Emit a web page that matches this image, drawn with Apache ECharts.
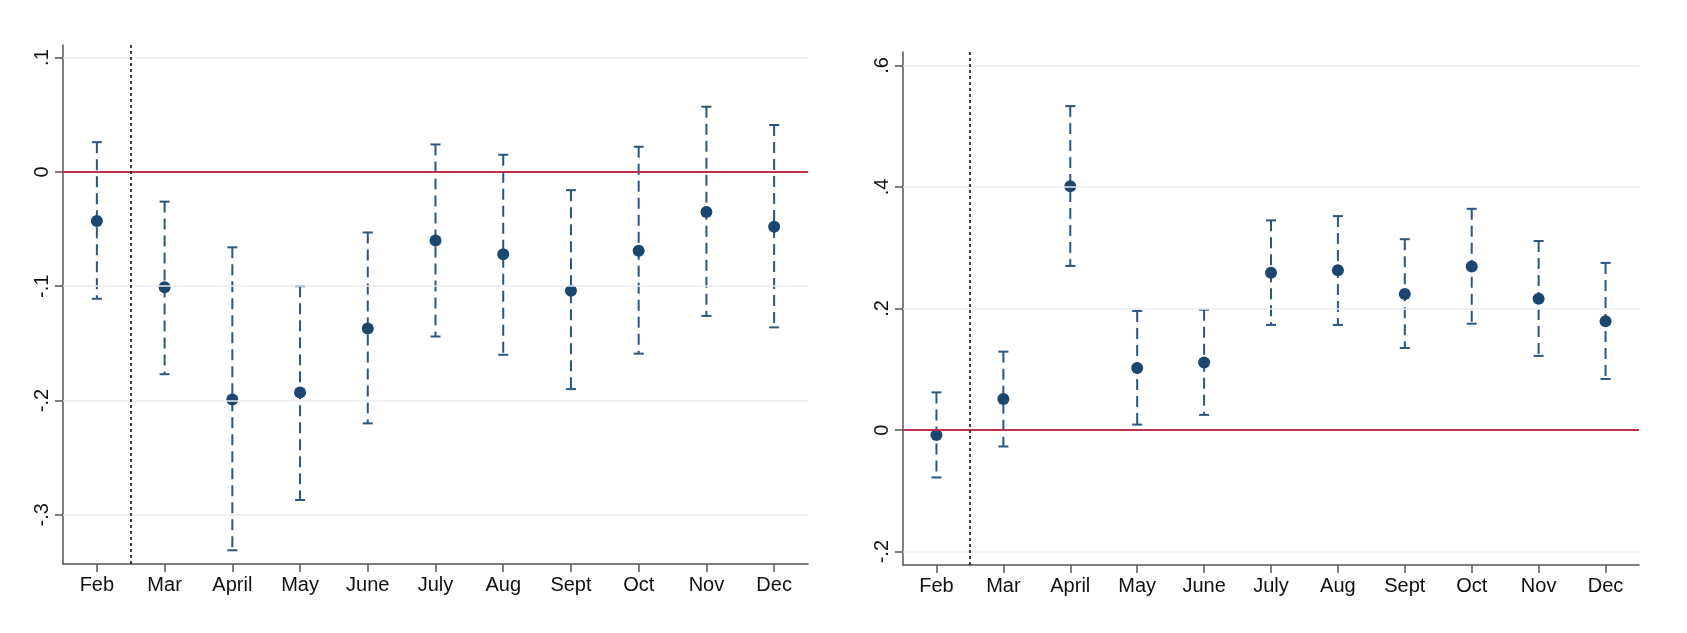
<!DOCTYPE html>
<html>
<head>
<meta charset="utf-8">
<script src="https://cdn.jsdelivr.net/npm/echarts@6/dist/echarts.min.js"></script>
<style>
html,body{margin:0;padding:0;background:#fff;}
#c{width:1687px;height:633px;}
</style>
</head>
<body>
<div id="c"></div>
<script>
// ---- data ----
const months = ['Feb','Mar','April','May','June','July','Aug','Sept','Oct','Nov','Dec'];

const leftEst  = [-0.043, -0.101, -0.199, -0.193, -0.137, -0.060, -0.072, -0.104, -0.069, -0.035, -0.048];
const leftLow  = [-0.111, -0.177, -0.331, -0.287, -0.220, -0.144, -0.160, -0.190, -0.159, -0.126, -0.136];
const leftHigh = [ 0.026, -0.026, -0.066, -0.100, -0.053,  0.024,  0.015, -0.016,  0.022,  0.057,  0.041];

const rightEst  = [-0.008, 0.051, 0.401, 0.102, 0.111, 0.259, 0.263, 0.224, 0.269, 0.216, 0.179];
const rightLow  = [-0.078, -0.027, 0.270, 0.009, 0.025, 0.173, 0.173, 0.135, 0.175, 0.122, 0.084];
const rightHigh = [ 0.062, 0.129, 0.533, 0.196, 0.198, 0.345, 0.352, 0.314, 0.364, 0.311, 0.275];

const leftTicks = [-0.3, -0.2, -0.1, 0, 0.1];
const leftTickLabels = ['-.3', '-.2', '-.1', '0', '.1'];
const rightTicks = [-0.2, 0, 0.2, 0.4, 0.6];
const rightTickLabels = ['-.2', '0', '.2', '.4', '.6'];

const leftRange = [-0.343, 0.111];
const rightRange = [-0.222, 0.622];
const eventPos = 1; // boundary between Feb and Mar (band edge)

// ---- styles ----
const NAVY = '#1a476f';
const BAR = '#2b5680';
const RED = '#c0304a';
const GRID = '#ebebf0';
const AXIS = '#555555';
const FONT = 'Liberation Sans, Arial, sans-serif';

const chart = echarts.init(document.getElementById('c'), null, {renderer: 'canvas'});

function labelFmt(ticks, labels) {
  return function (v) {
    for (let i = 0; i < ticks.length; i++) {
      if (Math.abs(v - ticks[i]) < 1e-9) return labels[i];
    }
    return '';
  };
}

function errRender(params, api) {
  const i = api.value(0);
  const top = api.coord([i, api.value(2)]);
  const bot = api.coord([i, api.value(1)]);
  const hw = 5;
  const st = {stroke: BAR, lineWidth: 2};
  return {
    type: 'group',
    children: [
      {type: 'line', shape: {x1: top[0], y1: top[1], x2: bot[0], y2: bot[1]},
       style: Object.assign({lineDash: [11, 6]}, st)},
      {type: 'line', shape: {x1: top[0] - hw, y1: top[1], x2: top[0] + hw, y2: top[1]}, style: st},
      {type: 'line', shape: {x1: bot[0] - hw, y1: bot[1], x2: bot[0] + hw, y2: bot[1]}, style: st}
    ]
  };
}

const grids = [
  {left: 63, top: 45, width: 745, height: 519},
  {left: 903, top: 52, width: 736, height: 513}
];

const panels = [
  {est: leftEst, low: leftLow, high: leftHigh, ticks: leftTicks, labels: leftTickLabels, range: leftRange},
  {est: rightEst, low: rightLow, high: rightHigh, ticks: rightTicks, labels: rightTickLabels, range: rightRange}
];

const xAxes = [], yAxes = [], series = [];
panels.forEach(function (p, g) {
  xAxes.push({
    type: 'category', gridIndex: g, data: months, boundaryGap: true, position: 'bottom',
    axisLine: {show: true, onZero: false, lineStyle: {color: AXIS, width: 1.5}},
    axisTick: {show: true, alignWithLabel: true, length: 8, lineStyle: {color: AXIS, width: 1.5}},
    axisLabel: {fontFamily: FONT, fontSize: 20, color: '#111', margin: 11},
    splitLine: {show: false}
  });
  xAxes.push({
    type: 'value', gridIndex: g, min: 0, max: months.length, show: false,
    axisLine: {onZero: false}, splitLine: {show: false}
  });
  yAxes.push({
    type: 'value', gridIndex: g, min: p.range[0], max: p.range[1],
    axisLine: {show: true, onZero: false, lineStyle: {color: AXIS, width: 1.5}},
    axisTick: {show: true, length: 8, lineStyle: {color: AXIS, width: 1.5}, customValues: p.ticks},
    axisLabel: {fontFamily: FONT, fontSize: 20, color: '#111', rotate: 90, margin: 11,
                customValues: p.ticks, formatter: labelFmt(p.ticks, p.labels)},
    splitLine: {show: false}
  });

  const xc = g * 2, xv = g * 2 + 1;

  series.push({
    type: 'scatter', xAxisIndex: xv, yAxisIndex: g, data: [[eventPos, 0]], symbolSize: 0, silent: true, z: 1,
    markLine: {
      silent: true, symbol: 'none', animation: false, label: {show: false},
      lineStyle: {color: GRID, width: 1.5, type: 'solid'},
      data: p.ticks.filter(function (t) { return t !== 0; }).map(function (t) { return {yAxis: t}; })
    }
  });
  series.push({
    type: 'scatter', xAxisIndex: xv, yAxisIndex: g, data: [[eventPos, 0]], symbolSize: 0, silent: true, z: 2,
    markLine: {
      silent: true, symbol: 'none', animation: false, label: {show: false},
      data: [
        {yAxis: 0, lineStyle: {color: RED, width: 2, type: 'solid'}},
        {xAxis: eventPos, lineStyle: {color: '#000', width: 1.5, type: [3, 3]}}
      ]
    }
  });
  series.push({
    type: 'custom', xAxisIndex: xc, yAxisIndex: g, z: 3, animation: false,
    renderItem: errRender,
    encode: {x: 0, y: [1, 2]},
    data: months.map(function (m, i) { return [i, p.low[i], p.high[i]]; })
  });
  series.push({
    type: 'scatter', xAxisIndex: xc, yAxisIndex: g, z: 4, animation: false,
    symbol: 'circle', symbolSize: 12, itemStyle: {color: NAVY, opacity: 1},
    data: months.map(function (m, i) { return [i, p.est[i]]; })
  });
});

chart.setOption({
  backgroundColor: '#ffffff',
  animation: false,
  grid: grids,
  xAxis: xAxes,
  yAxis: yAxes,
  series: series
});
</script>
</body>
</html>
